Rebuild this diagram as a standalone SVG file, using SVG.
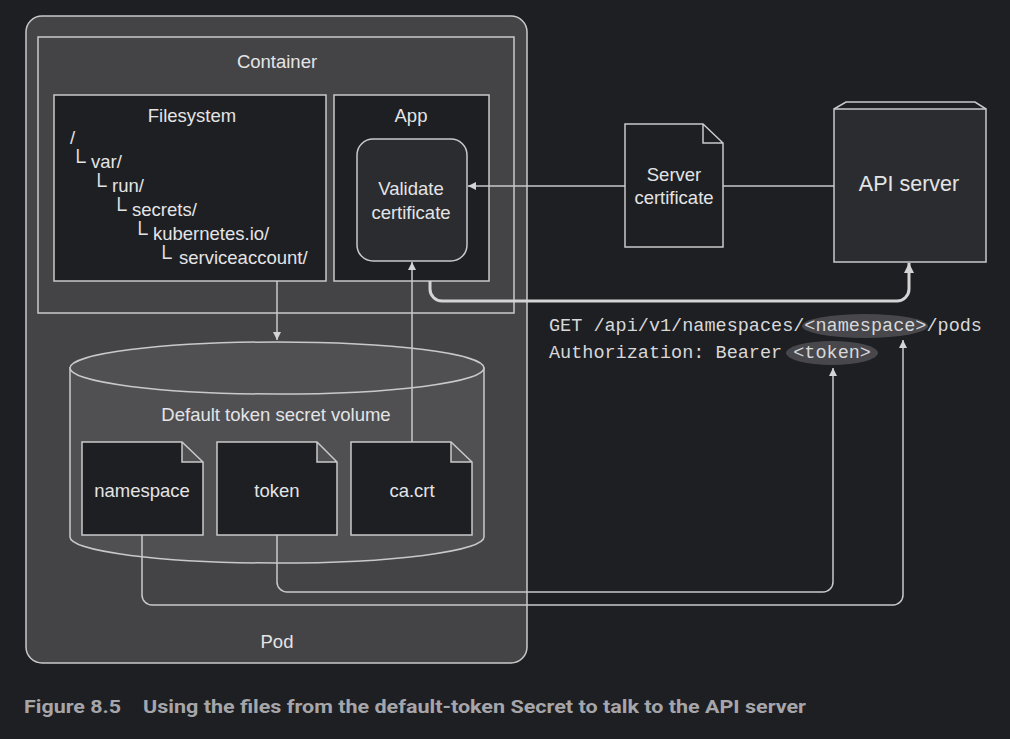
<svg xmlns="http://www.w3.org/2000/svg" width="1010" height="739" viewBox="0 0 1010 739">
<defs>
<style>
.ln{fill:none;stroke:#c9c9cb;stroke-width:1.5}
.t{font-family:"Liberation Sans",Arial,sans-serif;font-size:18.5px;fill:#e4e4e6;text-anchor:middle;dominant-baseline:central}
.tl{font-family:"Liberation Sans","DejaVu Sans",Arial,sans-serif;font-size:18.5px;fill:#e4e4e6;dominant-baseline:central}
.br{font-size:22px}
.m{font-family:"Liberation Mono","Courier New",monospace;font-size:18.5px;fill:#d8d8da;dominant-baseline:central}
.hl{fill:#48484c}
.cap{font-family:Roboto,"Liberation Sans",sans-serif;font-weight:bold;font-size:19px;fill:#a6a6aa;dominant-baseline:central}
</style>
<marker id="ah" viewBox="0 0 10 10" refX="10" refY="5" markerWidth="9" markerHeight="8" markerUnits="userSpaceOnUse" orient="auto">
<path d="M0,0 L10,5 L0,10 Z" fill="#d4d4d6"/>
</marker>
<marker id="ahb" viewBox="0 0 10 10" refX="10" refY="5" markerWidth="12" markerHeight="10" markerUnits="userSpaceOnUse" orient="auto">
<path d="M0,0 L10,5 L0,10 Z" fill="#d4d4d6"/>
</marker>
</defs>
<rect width="1010" height="739" fill="#1e1f22"/>

<g id="pod">
<rect x="26" y="16" width="501" height="647" rx="16" class="ln" style="fill:#444447"/>
<text class="t" x="277" y="641">Pod</text>
</g>

<g id="container">
<rect x="38" y="37" width="476" height="276" class="ln" style="fill:#444447"/>
<text class="t" x="277" y="61">Container</text>
</g>

<g id="filesystem">
<rect x="54" y="95" width="272" height="186" class="ln" style="fill:#1e1f22"/>
<text class="t" x="192" y="115">Filesystem</text>
<text class="tl" x="70" y="137">/</text>
<text class="tl" y="161"><tspan class="br" x="70">└</tspan><tspan x="91">var/</tspan></text>
<text class="tl" y="185"><tspan class="br" x="91">└</tspan><tspan x="112">run/</tspan></text>
<text class="tl" y="209"><tspan class="br" x="111">└</tspan><tspan x="132">secrets/</tspan></text>
<text class="tl" y="233"><tspan class="br" x="132">└</tspan><tspan x="153">kubernetes.io/</tspan></text>
<text class="tl" y="257"><tspan class="br" x="156">└</tspan><tspan x="179">serviceaccount/</tspan></text>
</g>

<g id="app">
<rect x="334" y="95" width="155" height="186" class="ln" style="fill:#1e1f22"/>
<text class="t" x="411" y="115">App</text>
</g>

<g id="validate">
<rect x="357" y="139" width="110" height="122" rx="16" class="ln" style="fill:#2b2c2f"/>
<text class="t" x="411" y="188">Validate</text>
<text class="t" x="411" y="212">certificate</text>
</g>

<g id="volume">
<path d="M70,368 V537 A207,26 0 0 0 484,537 V368 Z" class="ln" style="fill:#505053"/>
<ellipse cx="277" cy="368" rx="207" ry="26" class="ln" style="fill:#505053"/>
<text class="t" x="276" y="414">Default token secret volume</text>
</g>

<g id="namespace-file">
<path d="M82,442 H182 L203,462 V535 H82 Z M182,442 V462 H203" class="ln" style="fill:#1e1f22"/>
<text class="t" x="142" y="490">namespace</text>
</g>

<g id="token-file">
<path d="M217,442 H317 L337,462 V535 H217 Z M317,442 V462 H337" class="ln" style="fill:#1e1f22"/>
<text class="t" x="277" y="490">token</text>
</g>

<g id="cacrt-file">
<path d="M351,442 H451 L472,462 V535 H351 Z M451,442 V462 H472" class="ln" style="fill:#1e1f22"/>
<text class="t" x="412" y="490">ca.crt</text>
</g>

<g id="server-certificate">
<path d="M625,124 H703 L723,143 V247 H625 Z M703,124 V143 H723" class="ln" style="fill:#1e1f22"/>
<text class="t" x="674" y="174">Server</text>
<text class="t" x="674" y="197">certificate</text>
</g>

<g id="api-server">
<path d="M834,109 L846,102 H975 L986,109" class="ln"/>
<rect x="834" y="109" width="152" height="153" class="ln" style="fill:#2b2c2f"/>
<text class="t" x="909" y="184" style="font-size:21.5px">API server</text>
</g>

<g id="request">
<ellipse cx="865" cy="326" rx="63" ry="12" class="hl"/>
<ellipse cx="832" cy="353" rx="46" ry="12" class="hl"/>
<text class="m" x="549" y="326">GET /api/v1/namespaces/&lt;namespace&gt;/pods</text>
<text class="m" x="549" y="353">Authorization: Bearer &lt;token&gt;</text>
</g>

<g id="connectors">
<line x1="834" y1="186" x2="723" y2="186" class="ln"/>
<line x1="625" y1="186" x2="468" y2="186" class="ln" marker-end="url(#ah)"/>
<line x1="277" y1="281" x2="277" y2="340" class="ln" marker-end="url(#ah)"/>
<line x1="412" y1="442" x2="412" y2="262" class="ln" marker-end="url(#ah)"/>
<path d="M430,281 V289 A12,12 0 0 0 442,301 H897 A12,12 0 0 0 909,289 V263" fill="none" stroke="#d4d4d6" stroke-width="3" marker-end="url(#ahb)"/>
<path d="M277,535 V582 A10,10 0 0 0 287,592 H823 A10,10 0 0 0 833,582 V368" class="ln" marker-end="url(#ah)"/>
<path d="M142,535 V595 A10,10 0 0 0 152,605 H893 A10,10 0 0 0 903,595 V340" class="ln" marker-end="url(#ah)"/>
</g>

<g id="caption">
<text class="cap" x="24" y="706" textLength="97" lengthAdjust="spacingAndGlyphs">Figure 8.5</text>
<text class="cap" x="143" y="706" textLength="663" lengthAdjust="spacingAndGlyphs">Using the files from the default-token Secret to talk to the API server</text>
</g>
</svg>
